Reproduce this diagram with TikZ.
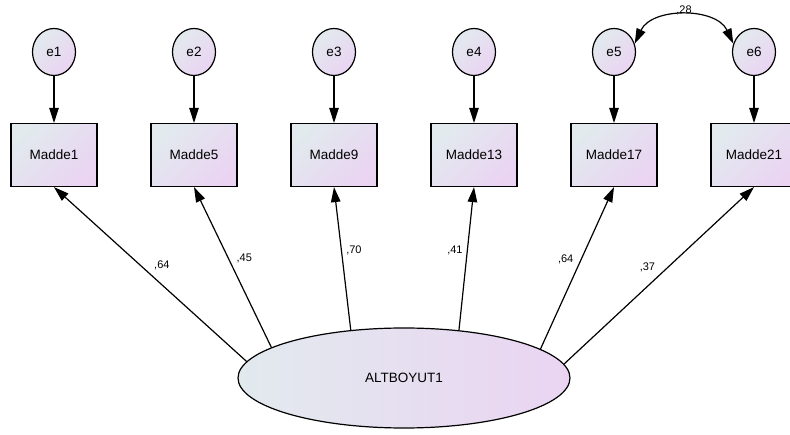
\documentclass[tikz,border=0pt]{standalone}
\usepackage{fontspec}
\setmainfont{Liberation Sans}
\usetikzlibrary{arrows.meta, shapes, positioning}

\definecolor{shadeL}{RGB}{226,234,238}
\definecolor{shadeR}{RGB}{234,212,242}

\begin{document}
\begin{tikzpicture}[
    obs/.style={draw, rectangle, line width=1.2pt, minimum width=86pt, minimum height=63pt,
      left color=shadeL, right color=shadeR, shading angle=45, text centered,
      font=\fontsize{13.5}{15}\selectfont},
    err/.style={draw, ellipse, line width=1.2pt, minimum width=43pt, minimum height=47pt, inner sep=0pt,
      left color=shadeL, right color=shadeR, shading angle=45, font=\fontsize{13.5}{15}\selectfont},
    lat/.style={draw, ellipse, line width=1.2pt, minimum width=332pt, minimum height=100pt,
      left color=shadeL, right color=shadeR, font=\fontsize{13.5}{15}\selectfont},
    reg/.style={-{Triangle[length=15pt, width=9.5pt]}, line width=1.2pt},
    cov/.style={{Triangle[length=15pt, width=9.5pt]}-{Triangle[length=15pt, width=9.5pt]}, line width=1.2pt},
    coef/.style={font=\fontsize{11}{12}\selectfont}
  ]
    \useasboundingbox (0pt,0pt) rectangle (790pt,-435pt);

    % nodes %
      \node[obs] (m1) at (54pt,-155pt) {Madde1};
      \node[obs, right of = m1, node distance=140pt] (m5) {Madde5};
      \node[obs, right of = m5, node distance=140pt] (m9) {Madde9};
      \node[obs, right of = m9, node distance=140pt] (m13) {Madde13};
      \node[obs, right of = m13, node distance=140pt] (m17) {Madde17};
      \node[obs, right of = m17, node distance=140pt] (m21) {Madde21};

      \node[err, above of = m1, node distance=103pt] (e1) {e1};
      \node[err, above of = m5, node distance=103pt] (e2) {e2};
      \node[err, above of = m9, node distance=103pt] (e3) {e3};
      \node[err, above of = m13, node distance=103pt] (e4) {e4};
      \node[err, above of = m17, node distance=103pt] (e5) {e5};
      \node[err, above of = m21, node distance=103pt] (e6) {e6};

      \node[lat] (alt) at (404pt,-378pt) {ALTBOYUT1};

      % edges %
      \draw[reg] (e1) -- (m1);
      \draw[reg] (e2) -- (m5);
      \draw[reg] (e3) -- (m9);
      \draw[reg] (e4) -- (m13);
      \draw[reg] (e5) -- (m17);
      \draw[reg] (e6) -- (m21);

      \draw[reg] (alt.174.5) -- node[coef, pos=.5, above right] {,64} (m1.south);
      \draw[reg] (alt.167.5) -- node[coef, pos=.5, above right] {,45} (m5.south);
      \draw[reg] (alt.138.5) -- node[coef, pos=.5, above right] {,70} (m9.south);
      \draw[reg] (alt.41.5) -- node[coef, pos=.5, above left] {,41} (m13.south);
      \draw[reg] (alt.12.5) -- node[coef, pos=.5, above left] {,64} (m17.south);
      \draw[reg] (alt.5.5) -- node[coef, pos=.5, above left] {,37} (m21.south);

      \draw[cov] (e5.22) to[out=65, in=115, looseness=1.05] node[coef, above, inner sep=1pt] {,28} (e6.158);
    \end{tikzpicture}
\end{document}
